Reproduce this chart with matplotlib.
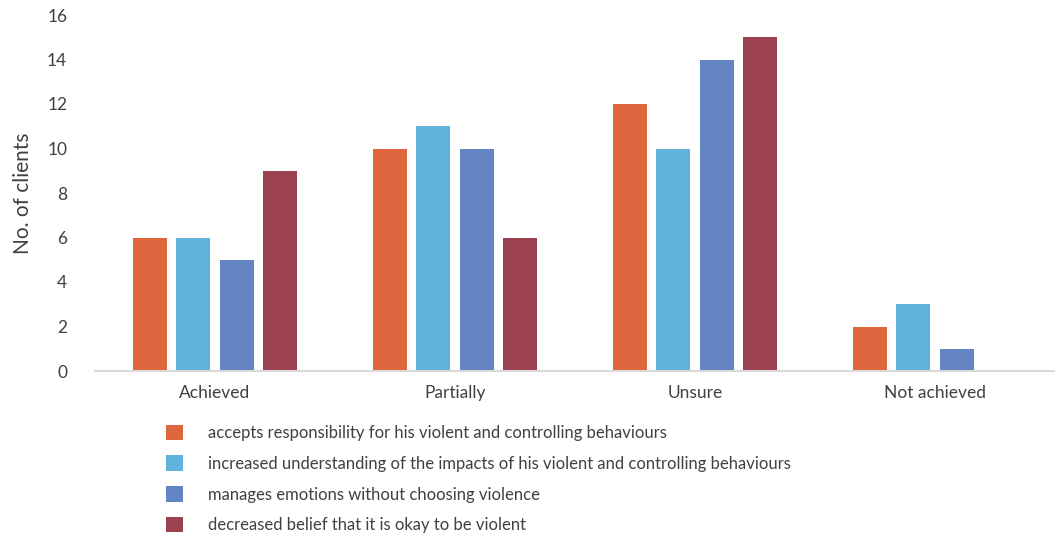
import numpy as np
import matplotlib
matplotlib.use("Agg")
from matplotlib import pyplot as plt

plt.rcParams['font.family'] = ['Lato', 'DejaVu Sans']

categories = ['Achieved', 'Partially', 'Unsure', 'Not achieved']
series_names = [
    'accepts responsibility for his violent and controlling behaviours',
    'increased understanding of the impacts of his violent and controlling behaviours',
    'manages emotions without choosing violence',
    'decreased belief that it is okay to be violent',
]
accepts = [6, 10, 12, 2]
understanding = [6, 11, 10, 3]
emotions = [5, 10, 14, 1]
belief = [9, 6, 15, 0]
colors = ['#DD663E', '#5FB3DC', '#6485C3', '#9B4150']

fig = plt.figure(figsize=(10.55, 5.39), dpi=100)
ax = fig.add_axes([95 / 1055, 1 - 371 / 539, 960 / 1055, 356 / 539])

x = np.arange(len(categories))
step = 0.181
width = 0.142
all_series = [accepts, understanding, emotions, belief]
for i, (vals, name, c) in enumerate(zip(all_series, series_names, colors)):
    ax.bar(x + (i - 1.5) * step, vals, width, color=c, label=name)

ax.set_xlim(-0.5, 3.5)
ax.set_ylim(0, 16)
ax.set_yticks(range(0, 17, 2))
ax.set_xticks(x)
ax.set_xticklabels(categories, fontsize=13.5)
ax.tick_params(axis='both', length=0, labelsize=12.5, colors='#404040')
ax.tick_params(axis='y', pad=20)
ax.tick_params(axis='x', pad=10)
for s in ['top', 'right', 'left']:
    ax.spines[s].set_visible(False)
ax.spines['bottom'].set_color('#d9d9d9')
ax.spines['bottom'].set_linewidth(1.5)
ax.set_ylabel('No. of clients', fontsize=15, color='#404040', labelpad=10)

ax.legend(loc='upper left', bbox_to_anchor=(159 / 1055, 1 - 418 / 539),
          bbox_transform=fig.transFigure, frameon=False, fontsize=12,
          handlelength=1.05, handleheight=1.05, labelspacing=0.86,
          handletextpad=1.5, labelcolor='#404040', borderaxespad=0)

plt.savefig("out.png", dpi=100)
